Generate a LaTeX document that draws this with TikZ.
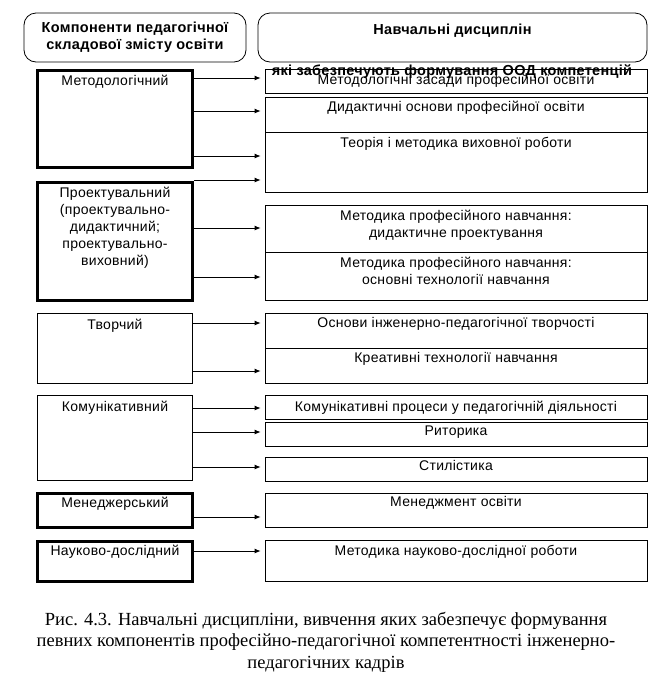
\documentclass[tikz,border=0pt]{standalone}
\usepackage{fontspec}
\setmainfont{Liberation Sans}[LetterSpace=2]
\newfontfamily\capfont{Liberation Serif}
\usetikzlibrary{arrows.meta,positioning}

\tikzset{
  comp/.style={draw, line width=#1, minimum width=155pt},
  comp/.default=0.8pt,
  disc/.style={draw, line width=0.8pt, minimum width=382pt},
  head/.style={draw, rounded corners=12pt, line width=0.8pt},
  lbl/.style={anchor=north, align=center, inner sep=0pt, font=\fontsize{14}{17}\selectfont},
  link/.style={-{Latex[length=6pt,width=5pt]}, line width=0.8pt, shorten >=4pt},
}

\begin{document}
\begin{tikzpicture}[x=1pt, y=-1pt]
  \useasboundingbox (0,0) rectangle (650,697);
  \node[head, minimum width=222pt, minimum height=49pt, align=center,
    font=\bfseries\fontsize{14.5}{17}\selectfont] (hcomp) at (135,37.5)
    {Компоненти педагогічної\\складової змісту освіти};
  \node[head, minimum width=389pt, minimum height=49pt] (hdisc) at (452.5,37.5) {};
  \node[lbl, font=\bfseries\fontsize{14.5}{17}\selectfont, below=11pt of hdisc.north] (hdisc-t)
    {Навчальні дисциплін};

  \node[comp=3pt, minimum height=97pt] (met) at (115,118.5) {};
  \node[comp=3pt, minimum height=118pt] (proj) at (115,241) {};
  \node[comp, minimum height=70pt] (tvor) at (115,348) {};
  \node[comp, minimum height=85pt] (komu) at (115,437.5) {};
  \node[comp=3pt, minimum height=34pt] (mened) at (115,510) {};
  \node[comp=3pt, minimum height=40pt] (nauk) at (115,561) {};

  \node[lbl, below=6pt of met.north] {Методологічний};
  \node[lbl, below=6pt of proj.north]
    {Проектувальний\\(проектувально-\\дидактичний;\\проектувально-\\виховний)};
  \node[lbl, below=6pt of tvor.north] {Творчий};
  \node[lbl, below=6pt of komu.north] {Комунікативний};
  \node[lbl, below=5pt of mened.north] {Менеджерський};
  \node[lbl, below=5pt of nauk.north] {Науково-дослідний};

  \node[disc, minimum height=24pt] (r1) at (456,81) {};
  \node[disc, minimum height=35pt] (r2) at (456,114.5) {};
  \node[disc, minimum height=60pt] (r3) at (456,162) {};
  \node[disc, minimum height=47pt] (r4) at (456,228.5) {};
  \node[disc, minimum height=48pt] (r5) at (456,276) {};
  \node[disc, minimum height=35pt] (r6) at (456,330.5) {};
  \node[disc, minimum height=35pt] (r7) at (456,365.5) {};
  \node[disc, minimum height=24pt] (r8) at (456,407) {};
  \node[disc, minimum height=24pt] (r9) at (456,434) {};
  \node[disc, minimum height=24pt] (r10) at (456,469) {};
  \node[disc, minimum height=34pt] (r11) at (456,510) {};
  \node[disc, minimum height=41pt] (r12) at (456,560.5) {};

  \node[lbl, below=5pt of r1.north] {Методологічні засади професійної освіти};
  \node[lbl, below=4pt of r2.north] {Дидактичні основи професійної освіти};
  \node[lbl, below=5pt of r3.north] {Теорія і методика виховної роботи};
  \node[lbl, below=5pt of r4.north]
    {Методика професійного навчання:\\дидактичне проектування};
  \node[lbl, below=5pt of r5.north]
    {Методика професійного навчання:\\основні технології навчання};
  \node[lbl, below=5pt of r6.north] {Основи інженерно-педагогічної творчості};
  \node[lbl, below=5pt of r7.north] {Креативні технології навчання};
  \node[lbl, below=6pt of r8.north] {Комунікативні процеси у педагогічній діяльності};
  \node[lbl, below=4pt of r9.north] {Риторика};
  \node[lbl, below=4pt of r10.north] {Стилістика};
  \node[lbl, below=4pt of r11.north] {Менеджмент освіти};
  \node[lbl, below=5pt of r12.north] {Методика науково-дослідної роботи};

  \node[font=\bfseries\fontsize{14.5}{17}\selectfont, inner sep=0pt] (hdisc-s) at (452,72)
    {які забезпечують формування ООД компетенцій};

  \draw[link] (met.east |- 0,78) -- (r1.west |- 0,78);
  \draw[link] (met.east |- 0,111) -- (r2.west |- 0,111);
  \draw[link] (met.east |- 0,156) -- (r3.west |- 0,156);
  \draw[link] (proj.east |- 0,180) -- (r3.west |- 0,180);
  \draw[link] (proj.east |- 0,228) -- (r4.west |- 0,228);
  \draw[link] (proj.east |- 0,277) -- (r5.west |- 0,277);
  \draw[link] (tvor.east |- 0,323) -- (r6.west |- 0,323);
  \draw[link] (tvor.east |- 0,371) -- (r7.west |- 0,371);
  \draw[link] (komu.east |- 0,408) -- (r8.west |- 0,408);
  \draw[link] (komu.east |- 0,432) -- (r9.west |- 0,432);
  \draw[link] (komu.east |- 0,467) -- (r10.west |- 0,467);
  \draw[link] (mened.east |- 0,517) -- (r11.west |- 0,517);
  \draw[link] (nauk.east |- 0,551) -- (r12.west |- 0,551);

  \node[align=center, font=\capfont\fontsize{18.5}{21.5}\selectfont] (caption) at (326,642)
    {Рис. 4.3. Навчальні дисципліни, вивчення яких забезпечує формування\\
     певних компонентів професійно-педагогічної компетентності інженерно-\\
     педагогічних кадрів};
\end{tikzpicture}
\end{document}
